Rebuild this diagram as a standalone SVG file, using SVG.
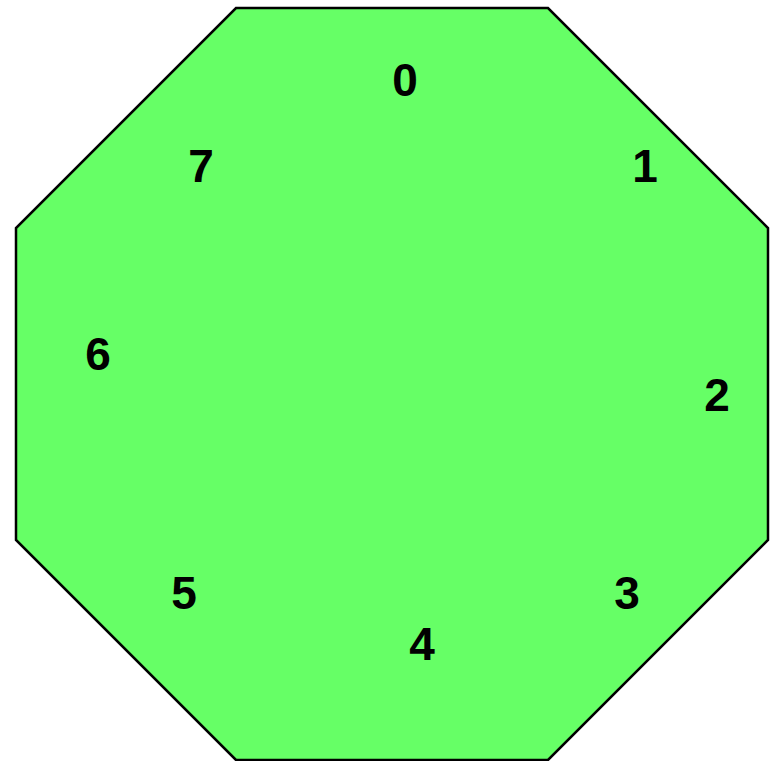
<svg xmlns="http://www.w3.org/2000/svg" width="771" height="761" viewBox="0 0 771 761">
<style>
.oct{fill:#66ff66;stroke:#000;stroke-width:2.5;stroke-linejoin:miter}
.lbl{font-family:"Liberation Sans",Arial,sans-serif;font-weight:bold;font-size:46px;fill:#000;text-anchor:middle}
</style>
<g id="octagon">
<polygon class="oct" points="236,8 548,8 768,228 768,540 548,760 236,760 16,540 16,228"/>
</g>
<g id="connectors"></g>
<g id="n0"><text class="lbl" x="405" y="96">0</text></g>
<g id="n1"><text class="lbl" x="645" y="182">1</text></g>
<g id="n2"><text class="lbl" x="717" y="411">2</text></g>
<g id="n3"><text class="lbl" x="627" y="609">3</text></g>
<g id="n4"><text class="lbl" x="422" y="660">4</text></g>
<g id="n5"><text class="lbl" x="184" y="609">5</text></g>
<g id="n6"><text class="lbl" x="98" y="370">6</text></g>
<g id="n7"><text class="lbl" x="201" y="182">7</text></g>
</svg>
